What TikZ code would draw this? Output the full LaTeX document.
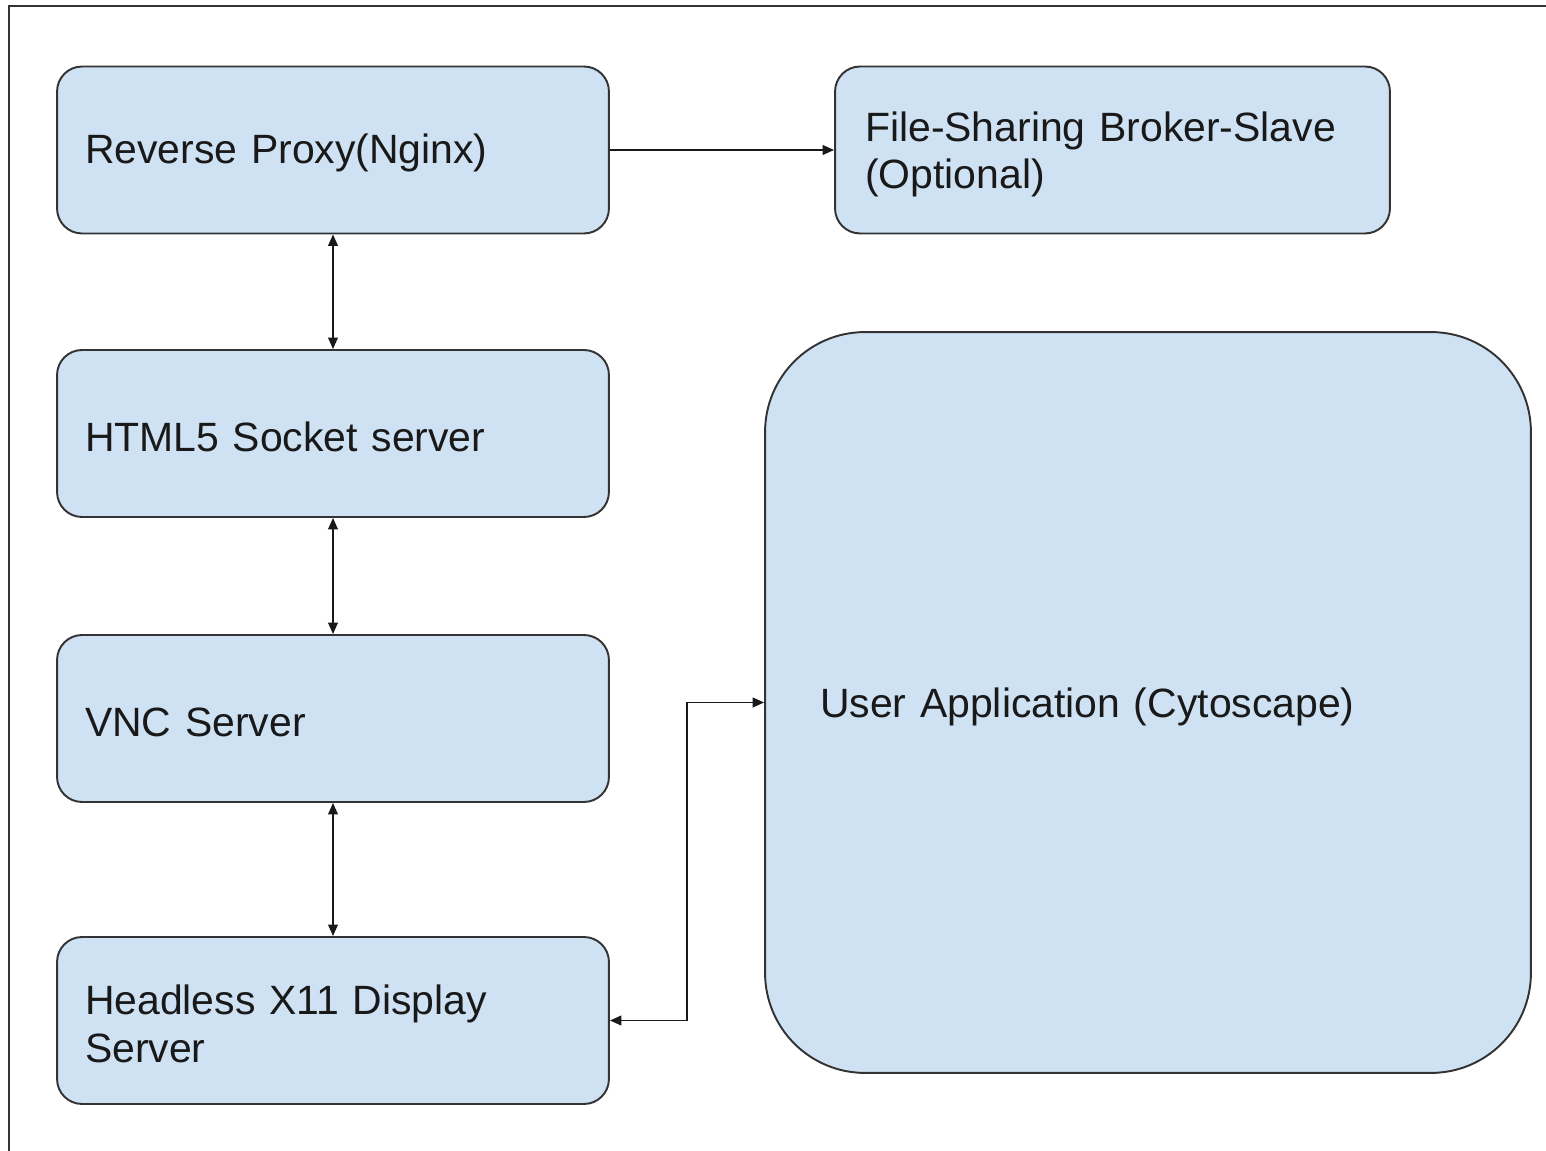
\documentclass[tikz,border=0pt]{standalone}
\usepackage{fontspec}
\setmainfont{Liberation Sans}
\usetikzlibrary{arrows.meta,calc}
\definecolor{boxfill}{HTML}{CFE2F3}
\definecolor{linec}{HTML}{333333}
\begin{document}
\begin{tikzpicture}[x=0.02cm,y=-0.02cm,
  box/.style={draw=linec, fill=boxfill, line width=1.1pt, rounded corners=0.5cm,
    minimum height=3.34cm, align=left, inner xsep=0.56cm, inner ysep=0pt,
    text width=9.92cm, font=\fontsize{23.3}{27.2}\selectfont, text=black!90},
  conn/.style={draw=black!90, line width=1pt, -{Triangle[length=6.5pt,width=5.5pt]}},
  bconn/.style={draw=black!90, line width=1pt, {Triangle[length=6.5pt,width=5.5pt]}-{Triangle[length=6.5pt,width=5.5pt]}}
]
\newcommand{\topstrut}{\rule{0pt}{20.5pt}}
\useasboundingbox (0,0) rectangle (1546,1151);
\fill[white] (0,0) rectangle (1546,1151);
\draw[linec, line width=1pt] (9,1151) -- (9,6) -- (1546,6);

\node[box] (rp) at (333,150) {\topstrut Reverse Proxy(Nginx)};
\node[box, text width=9.9cm, inner xsep=0.6cm] (fs) at (1112.5,150) {\rule{0pt}{22pt}File-Sharing Broker-Slave\\(Optional)};
\node[box] (hs) at (333,433.5) {\topstrut HTML5 Socket server};
\node[box] (vnc) at (333,718.5) {\topstrut VNC Server};
\node[box] (hx) at (333,1020.5) {\topstrut Headless X11 Display\\Server};
\node[box, rounded corners=2cm, minimum height=14.82cm, text width=13.12cm, inner xsep=1.1cm] (ua) at (1148,702.5) {\rule{0pt}{22pt}User Application (Cytoscape)};

\coordinate (elb) at (687,1020.5);
\draw[conn] (rp.east) -- (fs.west);
\draw[bconn] (rp.south) -- (hs.north);
\draw[bconn] (hs.south) -- (vnc.north);
\draw[bconn] (vnc.south) -- (hx.north);
\draw[bconn] (hx.east) -- (elb) |- (ua.west);
\end{tikzpicture}
\end{document}
